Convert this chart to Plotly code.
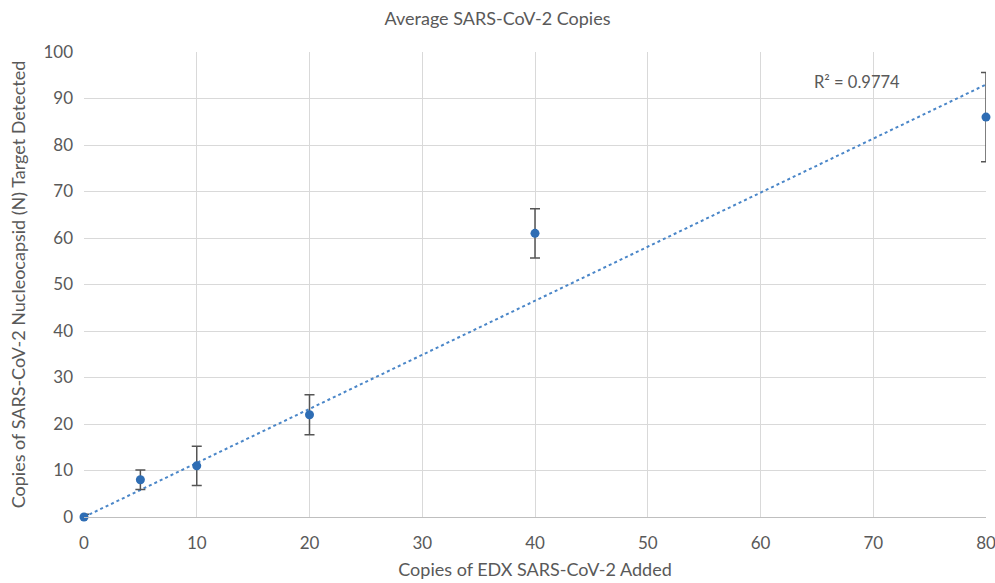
import numpy as np
import plotly.graph_objects as go

copies_added = [0, 5, 10, 20, 40, 80]
copies_detected = [0, 8, 11, 22, 61, 86]
error_values = [0.6, 2.1, 4.2, 4.3, 5.3, 9.6]
r2_label = "R² = 0.9774"

x = np.array(copies_added, dtype=float)
y = np.array(copies_detected, dtype=float)
slope = float((x * y).sum() / (x * x).sum())  # linear trend through origin
trend_x = [0, 80]
trend_y = [slope * v for v in trend_x]

font_family = "Lato, 'Open Sans', sans-serif"
gray = "#595959"

fig = go.Figure()
fig.add_trace(go.Scatter(
    x=trend_x, y=trend_y, mode="lines",
    line=dict(color="#4a86c8", width=2, dash="dot"),
    hoverinfo="skip", showlegend=False))
fig.add_trace(go.Scatter(
    x=copies_added, y=copies_detected, mode="markers",
    marker=dict(color="#2e6db4", size=9),
    cliponaxis=False,
    error_y=dict(type="data", array=error_values, visible=True,
                 color="#555555", thickness=1.5, width=5),
    showlegend=False))

fig.add_annotation(x=68.6, y=93.6, text=r2_label, showarrow=False,
                   font=dict(size=16.5, color=gray, family=font_family))

fig.update_layout(
    width=995, height=583,
    margin=dict(l=84, r=9, t=52, b=66),
    paper_bgcolor="white", plot_bgcolor="white",
    title=dict(text="Average SARS-CoV-2 Copies", x=0.5, xanchor="center",
               y=0.968, yanchor="middle",
               font=dict(size=18, color=gray, family=font_family)),
    font=dict(family=font_family, color=gray),
    xaxis=dict(range=[0, 80], dtick=10, tick0=0, automargin=False,
               showgrid=True, gridcolor="#d9d9d9", gridwidth=1,
               zeroline=False, showline=True, linecolor="#bfbfbf", linewidth=1,
               mirror=False, ticks="", ticklabelstandoff=11,
               ticklabeloverflow="allow",
               tickfont=dict(size=17, color=gray),
               title=dict(text="Copies of EDX SARS-CoV-2 Added",
                          font=dict(size=18, color=gray), standoff=10)),
    yaxis=dict(range=[0, 100], dtick=10, tick0=0, automargin=False,
               showgrid=True, gridcolor="#d9d9d9", gridwidth=1,
               zeroline=False, showline=False, ticks="", ticklabelstandoff=10,
               tickfont=dict(size=17, color=gray),
               title=dict(text="Copies of SARS-CoV-2 Nucleocapsid (N) Target Detected",
                          font=dict(size=18, color=gray), standoff=13)),
)

fig.write_html("out.html",
               config={"displayModeBar": False},
               post_script="document.body.style.margin='0';document.body.style.overflow='hidden';")
